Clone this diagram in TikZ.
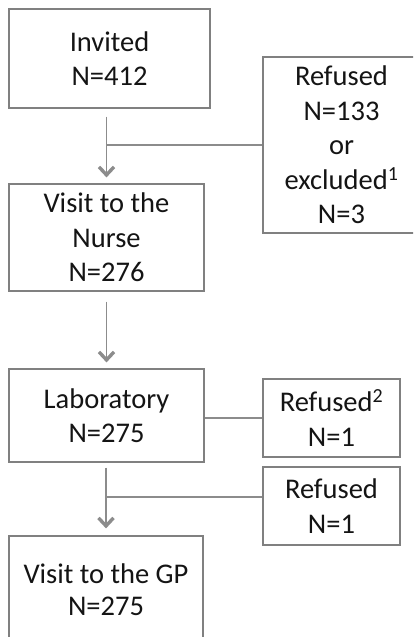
\documentclass[tikz,border=0pt]{standalone}
\usepackage{fontspec}
\setmainfont{Carlito}
\usetikzlibrary{arrows.meta,calc}
\definecolor{linegray}{HTML}{8C8C8C}
\definecolor{boxgray}{HTML}{808080}
\definecolor{txt}{HTML}{141414}
\tikzset{
  box/.style={draw=boxgray, line width=1.2pt, inner sep=0pt, align=center, text=txt,
    font=\fontsize{28.5}{34.5}\selectfont},
  conn/.style={draw=linegray, line width=1.3pt},
  arr/.style={conn, -{Straight Barb[length=8pt,width=15pt,line width=3.4pt]}},
}
\begin{document}
\begin{tikzpicture}[x=1pt,y=-1pt]
\useasboundingbox (0,0) rectangle (413,637);
\clip (0,0) rectangle (413,637);
\node[box, minimum width=201pt, minimum height=99pt] (inv) at (109.5,58.5) {Invited\\N=412};
\node[box, minimum width=157pt, minimum height=176pt] (ref1) at (341.5,145) {Refused\\N=133\\or\\excluded\textsuperscript{1}\\N=3};
\node[box, minimum width=195pt, minimum height=107pt] (nurse) at (106.5,237.5) {Visit to the\\Nurse\\N=276};
\node[box, minimum width=195pt, minimum height=93pt] (lab) at (106.5,415.5) {Laboratory\\N=275};
\node[box, minimum width=137pt, minimum height=78pt] (ref2) at (331.5,418) {Refused\textsuperscript{2}\\N=1};
\node[box, minimum width=137pt, minimum height=78pt] (ref3) at (331.5,506) {Refused\\N=1};
\node[box, minimum width=194pt, minimum height=107pt, font=\fontsize{28.5}{32}\selectfont] (gp) at (106,589.5) {Visit to the GP\\N=275};

\draw[arr, shorten <=8pt, shorten >=6pt] (inv.south -| nurse.north) -- (nurse.north);
\draw[arr, shorten <=10pt, shorten >=6pt] (nurse.south) -- (lab.north);
\draw[arr, shorten <=5pt, shorten >=7pt] (lab.south -| gp.north) -- (gp.north);

\draw[conn] (ref1.west) -- (ref1.west -| nurse.north);
\draw[conn] (lab.east |- ref2.west) -- (ref2.west);
\draw[conn] ([yshift=9pt]ref3.west) -- ([yshift=9pt]ref3.west -| gp.north);
\end{tikzpicture}
\end{document}
